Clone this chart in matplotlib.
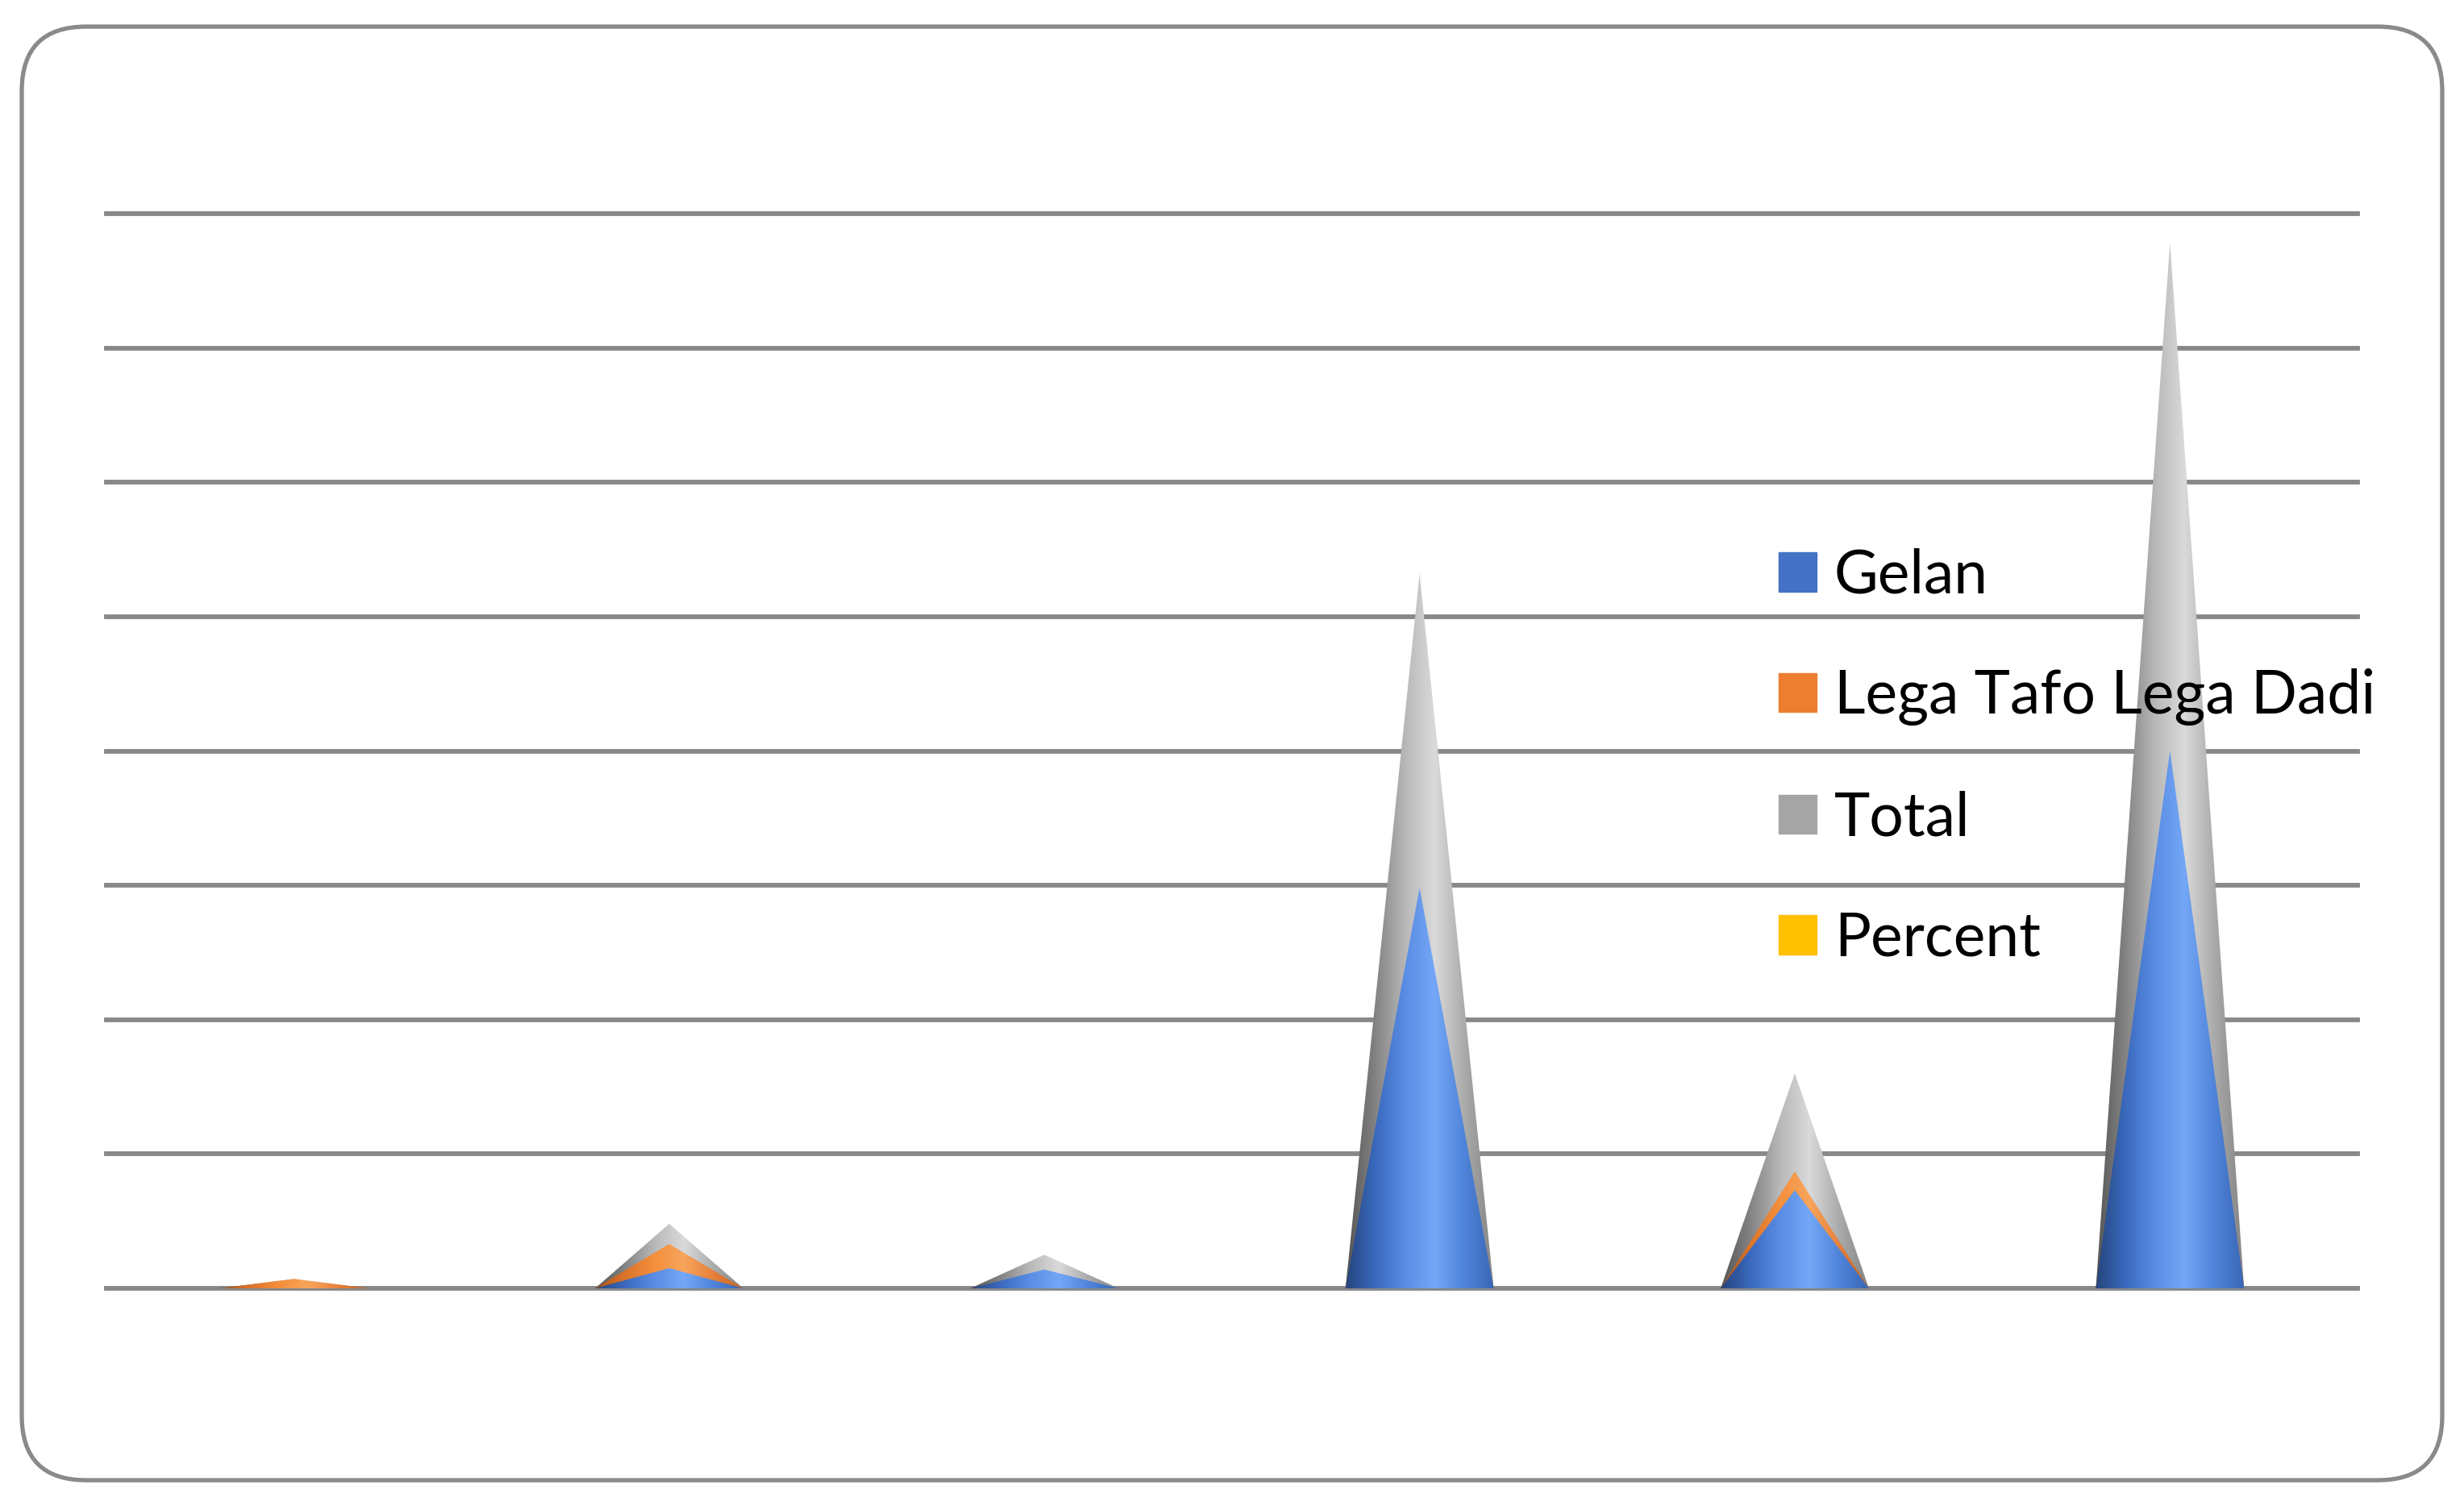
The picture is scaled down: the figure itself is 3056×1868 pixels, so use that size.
import matplotlib.pyplot as plt
import numpy as np
from matplotlib.patches import Polygon, Patch, FancyBboxPatch
from matplotlib.colors import LinearSegmentedColormap

# values (one gridline = 10)
positions = [0, 1, 2, 3, 4, 5]
gelan = [0.0, 1.5, 1.4, 29.8, 7.3, 40.0]
lega = [0.7, 3.3, 1.1, 23.4, 8.7, 37.8]
total = [0.7, 4.8, 2.5, 53.2, 16.0, 77.8]
percent = [0.5, 3.1, 1.6, 34.3, 10.3, 50.2]
labels = ['Gelan', 'Lega Tafo Lega Dadi', 'Total', 'Percent']
colors = ['#4472c4', '#ed7d31', '#a5a5a5', '#ffc000']

# shading across each cone, left edge to right edge
shades = {
    'Gelan': ['#26457d', '#3a69bd', '#5a8de4', '#74a7f6', '#5084da', '#3a67b6'],
    'Lega Tafo Lega Dadi': ['#a9501a', '#dc742c', '#f48f3c', '#f8a55c', '#e6803a', '#c4621f'],
    'Total': ['#555555', '#838383', '#b8b8b8', '#dadada', '#ababab', '#848484'],
    'Percent': ['#c29000', '#f2b600', '#ffd24a', '#ffdb6a', '#f0b400', '#cf9a00'],
}

plt.rcParams['font.family'] = ['Lato', 'DejaVu Sans']

W, H = 3056, 1868
fig = plt.figure(figsize=(W / 100, H / 100), dpi=100)

# rounded frame around the chart
bg = fig.add_axes([0, 0, 1, 1])
bg.set_xlim(0, W)
bg.set_ylim(H, 0)
bg.axis('off')
bg.add_patch(FancyBboxPatch((27, 33), 3002, 1803,
                            boxstyle='round,pad=0,rounding_size=80',
                            fc='white', ec='#8a8a8a', lw=3.8))

ax = fig.add_axes([132 / W, 1 - 1598 / H, (2924 - 132) / W, (1598 - 265) / H])
ax.patch.set_visible(False)


def cone(x, h, w, stops, z):
    if h <= 0:
        return
    tri = Polygon([(x - w / 2, 0), (x, h), (x + w / 2, 0)], closed=True,
                  fc='none', ec='none')
    ax.add_patch(tri)
    cmap = LinearSegmentedColormap.from_list('cone', stops)
    grad = np.linspace(0, 1, 256)[None, :]
    im = ax.imshow(grad, cmap=cmap, extent=[x - w / 2, x + w / 2, 0, h],
                   aspect='auto', zorder=z, interpolation='bilinear')
    im.set_clip_path(tri)


width = 0.395
series = [('Percent', percent, 2), ('Total', total, 3),
          ('Lega Tafo Lega Dadi', lega, 4), ('Gelan', gelan, 5)]
for name, vals, z in series:
    for x, v in zip(positions, vals):
        cone(x, v, width, shades[name], z)

ax.set_xlim(-0.5, 5.5)
ax.set_ylim(0, 80)
ax.set_yticks(np.arange(0, 81, 10))
ax.set_xticks([])
ax.set_axisbelow(True)
ax.grid(axis='y', color='#888888', lw=4.2, clip_on=False)
ax.tick_params(length=0, labelleft=False, labelbottom=False)
for s in ax.spines.values():
    s.set_visible(False)

handles = [Patch(color=c) for c in colors]
leg = ax.legend(handles, labels, loc='upper left',
                bbox_to_anchor=(2206 / W, 1 - 680 / H), bbox_transform=fig.transFigure,
                frameon=False, fontsize=54, handlelength=0.62, handleheight=0.62,
                handletextpad=0.3, labelspacing=1.07, borderpad=0, borderaxespad=0)
leg.set_zorder(10)

fig.savefig('out.png', dpi=100)
